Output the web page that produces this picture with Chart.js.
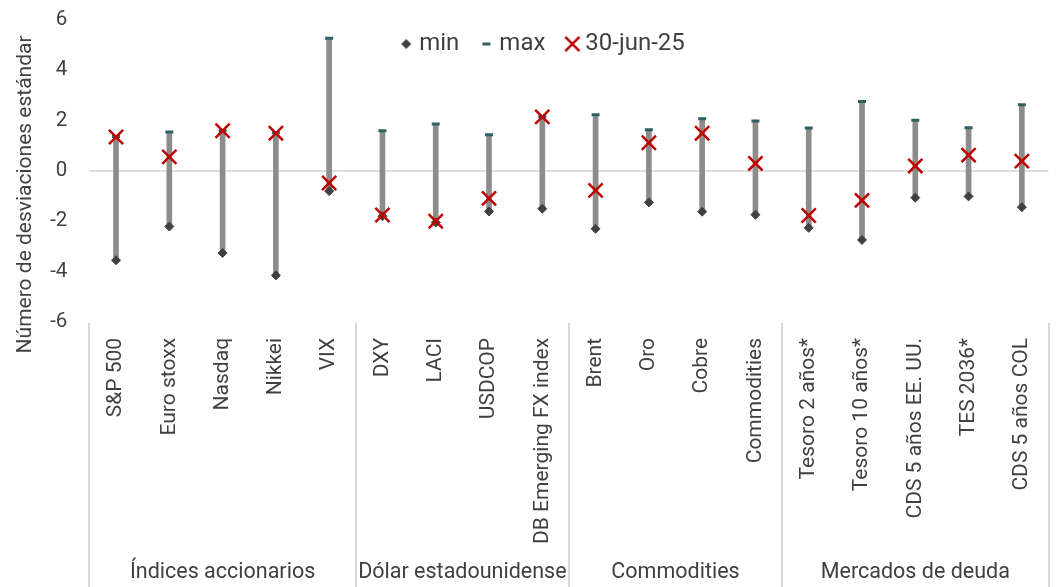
<!DOCTYPE html>
<html lang="es">
<head>
<meta charset="UTF-8" />
<title>Desviaciones estándar</title>
<script src="https://cdn.jsdelivr.net/npm/chart.js@4"></script>
<style>
  html, body { margin: 0; padding: 0; background: #fff; }
  #wrap { width: 1061px; height: 587px; }
</style>
</head>
<body>
<div id="wrap"><canvas id="grafico"></canvas></div>
<script>
// datos
const categorias = ["S&P 500", "Euro stoxx", "Nasdaq", "Nikkei", "VIX",
  "DXY", "LACI", "USDCOP", "DB Emerging FX index",
  "Brent", "Oro", "Cobre", "Commodities",
  "Tesoro 2 años*", "Tesoro 10 años*", "CDS 5 años EE. UU.", "TES 2036*", "CDS 5 años COL"];
const grupos = ["Índices accionarios", "Dólar estadounidense", "Commodities", "Mercados de deuda"];
const tamGrupos = [5, 4, 4, 5];
const valMin = [-3.55, -2.21, -3.26, -4.15, -0.8, -1.8, -2.05, -1.61, -1.5, -2.3, -1.25, -1.62, -1.74, -2.26, -2.74, -1.06, -1.01, -1.44];
const valMax = [1.37, 1.55, 1.6, 1.52, 5.27, 1.6, 1.87, 1.44, 2.16, 2.23, 1.64, 2.08, 1.99, 1.71, 2.76, 2.02, 1.72, 2.63];
const valActual = [1.35, 0.56, 1.6, 1.5, -0.48, -1.75, -2.0, -1.09, 2.15, -0.77, 1.12, 1.5, 0.3, -1.77, -1.17, 0.2, 0.63, 0.39];
const ejeY = { min: -6, max: 6, paso: 2 };

const GRIS = "#404040";
Chart.defaults.font.family = "Roboto";
Chart.defaults.color = GRIS;

const estilos = {
  min: { pointStyle: "rectRot", radius: 4.5, borderWidth: 1, fill: "#404040", stroke: "#404040" },
  max: { pointStyle: "line", radius: 4, borderWidth: 3, fill: "#2e6262", stroke: "#2e6262" },
  act: { pointStyle: "crossRot", radius: 10, borderWidth: 2.5, fill: "#c00000", stroke: "#c00000" }
};

// marcadores de la leyenda como imagen, mismo tamaño que en el gráfico
function marca(e) {
  const c = document.createElement("canvas");
  c.width = 24; c.height = 24;
  const g = c.getContext("2d");
  g.fillStyle = e.fill;
  g.strokeStyle = e.stroke;
  g.lineWidth = e.borderWidth;
  Chart.helpers.drawPoint(g, { pointStyle: e.pointStyle, radius: e.radius, rotation: 0, borderWidth: e.borderWidth }, 12, 12);
  return c;
}

// separadores y nombres de grupo bajo el eje x
const grupoEjes = {
  id: "grupoEjes",
  afterDraw(chart) {
    const x = chart.scales.x, ctx = chart.ctx, area = chart.chartArea;
    const bordes = [0];
    tamGrupos.forEach(n => bordes.push(bordes[bordes.length - 1] + n));
    ctx.save();
    ctx.strokeStyle = "#d9d9d9";
    ctx.lineWidth = 2;
    bordes.forEach(b => {
      const px = Math.round(x.getPixelForValue(b - 0.5));
      ctx.beginPath();
      ctx.moveTo(px, area.bottom + 1);
      ctx.lineTo(px, chart.height);
      ctx.stroke();
    });
    ctx.fillStyle = GRIS;
    ctx.font = "21.5px Roboto";
    ctx.textAlign = "center";
    ctx.textBaseline = "middle";
    grupos.forEach((g, i) => {
      const c = x.getPixelForValue((bordes[i] + bordes[i + 1]) / 2 - 0.5);
      ctx.fillText(g, c, chart.height - 14);
    });
    ctx.restore();
  }
};

// la leyenda va dentro del área del gráfico
const leyendaDentro = {
  id: "leyendaDentro",
  beforeLayout(chart) {
    const lg = chart.legend;
    if (lg && !lg._parcheado) {
      const fitOrig = lg.fit;
      lg.fit = function () { fitOrig.call(this); this.height = 0; };
      lg._parcheado = true;
    }
  },
  afterLayout(chart) {
    const lg = chart.legend;
    lg.top = 6; lg.bottom = 70; lg.height = 64;
    lg.left += 15; lg.right += 15;
  }
};

new Chart(document.getElementById("grafico"), {
  type: "bar",
  data: {
    labels: categorias,
    datasets: [
      { type: "line", label: "min", data: valMin, showLine: false, order: 3,
        pointStyle: estilos.min.pointStyle, pointRadius: estilos.min.radius, pointBorderWidth: estilos.min.borderWidth,
        pointBackgroundColor: estilos.min.fill, pointBorderColor: estilos.min.stroke },
      { type: "line", label: "max", data: valMax, showLine: false, order: 2,
        pointStyle: estilos.max.pointStyle, pointRadius: estilos.max.radius, pointBorderWidth: estilos.max.borderWidth,
        pointBackgroundColor: estilos.max.fill, pointBorderColor: estilos.max.stroke },
      { type: "line", label: "30-jun-25", data: valActual, showLine: false, order: 1,
        pointStyle: estilos.act.pointStyle, pointRadius: estilos.act.radius, pointBorderWidth: estilos.act.borderWidth,
        pointBackgroundColor: estilos.act.fill, pointBorderColor: estilos.act.stroke },
      { type: "bar", label: "rango", data: categorias.map((_, i) => [valMin[i], valMax[i]]), order: 4,
        backgroundColor: "#8c8c8c", barThickness: 5 }
    ]
  },
  options: {
    responsive: true,
    maintainAspectRatio: false,
    animation: false,
    layout: { padding: { top: 20, left: 4, right: 5, bottom: 43 } },
    plugins: {
      tooltip: { enabled: false },
      legend: {
        position: "top",
        align: "center",
        labels: {
          usePointStyle: true,
          boxWidth: 2,
          padding: 26,
          color: GRIS,
          font: { size: 24 },
          generateLabels: () => [
            { text: "min", pointStyle: marca(estilos.min), fontColor: GRIS, lineWidth: 0, datasetIndex: 0 },
            { text: "max", pointStyle: marca(estilos.max), fontColor: GRIS, lineWidth: 0, datasetIndex: 1 },
            { text: "30-jun-25", pointStyle: marca(estilos.act), fontColor: GRIS, lineWidth: 0, datasetIndex: 2 }
          ]
        }
      }
    },
    scales: {
      x: {
        grid: { display: true, drawOnChartArea: false, color: "transparent", drawTicks: true, tickLength: 16, tickColor: "transparent" },
        border: { display: false },
        ticks: { autoSkip: false, minRotation: 90, maxRotation: 90, padding: 0, color: GRIS, font: { size: 21 } }
      },
      y: {
        min: ejeY.min,
        max: ejeY.max,
        grid: { drawTicks: true, tickLength: 22, tickColor: "transparent", lineWidth: 2,
          color: c => c.tick && c.tick.value === 0 ? "#dedede" : "transparent" },
        border: { display: false },
        ticks: { stepSize: ejeY.paso, padding: 0, color: GRIS, font: { size: 20.5 } },
        title: { display: true, text: "Número de desviaciones estándar         ", color: GRIS, font: { size: 21 },
          padding: { top: 9, bottom: 12 } }
      }
    }
  },
  plugins: [grupoEjes, leyendaDentro]
});
</script>
</body>
</html>
